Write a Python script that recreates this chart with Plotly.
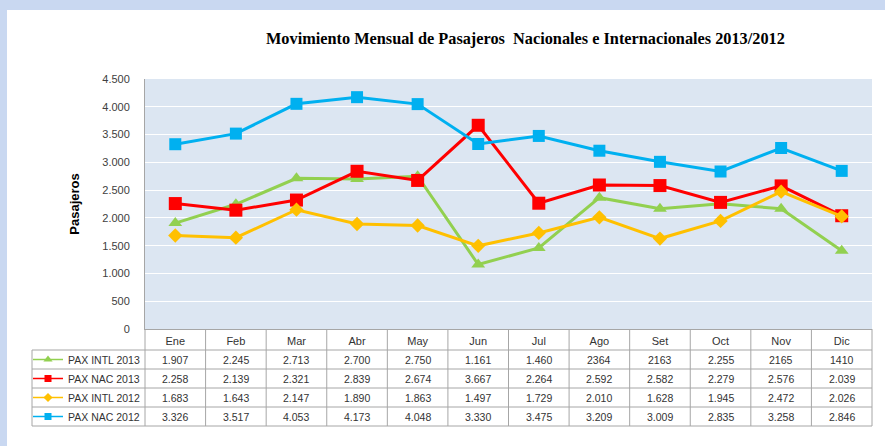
import plotly.graph_objects as go

months = ["Ene", "Feb", "Mar", "Abr", "May", "Jun", "Jul", "Ago", "Set", "Oct", "Nov", "Dic"]

intl_2013 = [1907, 2245, 2713, 2700, 2750, 1161, 1460, 2364, 2163, 2255, 2165, 1410]
nac_2013 = [2258, 2139, 2321, 2839, 2674, 3667, 2264, 2592, 2582, 2279, 2576, 2039]
intl_2012 = [1683, 1643, 2147, 1890, 1863, 1497, 1729, 2010, 1628, 1945, 2472, 2026]
nac_2012 = [3326, 3517, 4053, 4173, 4048, 3330, 3475, 3209, 3009, 2835, 3258, 2846]

intl_2013_labels = ["1.907", "2.245", "2.713", "2.700", "2.750", "1.161", "1.460", "2364", "2163", "2.255", "2165", "1410"]
nac_2013_labels = ["2.258", "2.139", "2.321", "2.839", "2.674", "3.667", "2.264", "2.592", "2.582", "2.279", "2.576", "2.039"]
intl_2012_labels = ["1.683", "1.643", "2.147", "1.890", "1.863", "1.497", "1.729", "2.010", "1.628", "1.945", "2.472", "2.026"]
nac_2012_labels = ["3.326", "3.517", "4.053", "4.173", "4.048", "3.330", "3.475", "3.209", "3.009", "2.835", "3.258", "2.846"]

series = [
    ("PAX INTL 2013", intl_2013, intl_2013_labels, "#92d050", "triangle-up", 12, 8),
    ("PAX NAC 2013", nac_2013, nac_2013_labels, "#ff0000", "square", 13, 7),
    ("PAX INTL 2012", intl_2012, intl_2012_labels, "#ffc000", "diamond", 11, 7),
    ("PAX NAC 2012", nac_2012, nac_2012_labels, "#00b0f0", "square", 12, 7),
]

W, H = 885, 446
L, R, T, B = 145, 13, 79, 117
PW, PH = W - L - R, H - T - B


def px(xp):
    return (xp - L) / PW


def py(yp):
    return (T + PH - yp) / PH


FONT = "Liberation Sans, Arial, sans-serif"
GRID = "#a6a6a6"

fig = go.Figure()
for name, vals, _, color, sym, size, lsize in series:
    fig.add_trace(go.Scatter(
        x=months, y=vals, name=name, mode="lines+markers", showlegend=False,
        line=dict(color=color, width=3),
        marker=dict(color=color, symbol=sym, size=size),
    ))
# legend-only entries with the small key style of the table
for name, vals, _, color, sym, size, lsize in series:
    fig.add_trace(go.Scatter(
        x=[None], y=[None], name=name, mode="lines+markers", showlegend=True,
        line=dict(color=color, width=1.5),
        marker=dict(color=color, symbol=sym, size=lsize),
    ))

shapes = []
# slide background bands
shapes.append(dict(type="rect", xref="paper", yref="paper", x0=px(0), x1=px(W), y0=py(0), y1=py(10),
                   fillcolor="#c9d8f1", line=dict(width=0), layer="below"))
shapes.append(dict(type="rect", xref="paper", yref="paper", x0=px(0), x1=px(7), y0=py(0), y1=py(H),
                   fillcolor="#c9d8f1", line=dict(width=0), layer="below"))

row_lines = [350, 369, 388, 407, 426]
for yl in row_lines:
    shapes.append(dict(type="line", xref="paper", yref="paper", x0=px(32), x1=px(L + PW), y0=py(yl), y1=py(yl),
                       line=dict(color=GRID, width=1)))
n = len(months)
for i in range(n + 1):
    xx = i / n
    shapes.append(dict(type="line", xref="paper", yref="paper", x0=xx, x1=xx, y0=py(T + PH), y1=py(426),
                       line=dict(color=GRID, width=1)))
shapes.append(dict(type="line", xref="paper", yref="paper", x0=px(32), x1=px(32), y0=py(350), y1=py(426),
                   line=dict(color=GRID, width=1)))

annotations = []
annotations.append(dict(text="<b>Movimiento Mensual de Pasajeros  Nacionales e Internacionales 2013/2012</b>",
                        xref="paper", yref="paper", x=px(525), y=py(38), showarrow=False,
                        font=dict(family="Liberation Serif, Times New Roman, serif", size=16.3, color="#000000"),
                        xanchor="center", yanchor="middle"))
row_centers = [359.5, 378.5, 397.5, 416.5]
for (name, vals, labels, color, sym, size, lsize), yc in zip(series, row_centers):
    for m, lab in zip(months, labels):
        annotations.append(dict(text=lab, xref="x", yref="paper", x=m, y=py(yc), showarrow=False,
                                font=dict(family=FONT, size=10.5, color="#333333"),
                                xanchor="center", yanchor="middle"))

fig.update_layout(
    width=W, height=H,
    margin=dict(l=L, r=R, t=T, b=B, autoexpand=False),
    paper_bgcolor="#ffffff",
    plot_bgcolor="#dce6f2",
    separators=",.",
    font=dict(family=FONT, size=11, color="#404040"),
    shapes=shapes,
    annotations=annotations,
    showlegend=True,
    legend=dict(x=px(28), xanchor="left", y=py(345), yanchor="top", bgcolor="rgba(0,0,0,0)",
                borderwidth=0, tracegroupgap=0, font=dict(family=FONT, size=10.5, color="#333333"),
                itemsizing="trace"),
    xaxis=dict(type="category", range=[-0.5, n - 0.5], showgrid=False, zeroline=False,
               showline=True, linecolor="#a6a6a6", linewidth=1, ticks="",
               tickfont=dict(family=FONT, size=11, color="#333333"), ticklabelstandoff=2),
    yaxis=dict(range=[0, 4500], dtick=500, tickformat=",d", showgrid=True, gridcolor="#ffffff", gridwidth=1,
               zeroline=False, showline=True, linecolor="#a6a6a6", linewidth=1, ticks="",
               ticklabelstandoff=12,
               tickfont=dict(family=FONT, size=11, color="#404040"),
               title=dict(text="<b>Pasajeros</b>", standoff=19,
                          font=dict(family=FONT, size=13, color="#000000"))),
)

fig.write_html("out.html", config={"displayModeBar": False},
               post_script="document.body.style.margin='0';document.body.style.overflow='hidden';")
